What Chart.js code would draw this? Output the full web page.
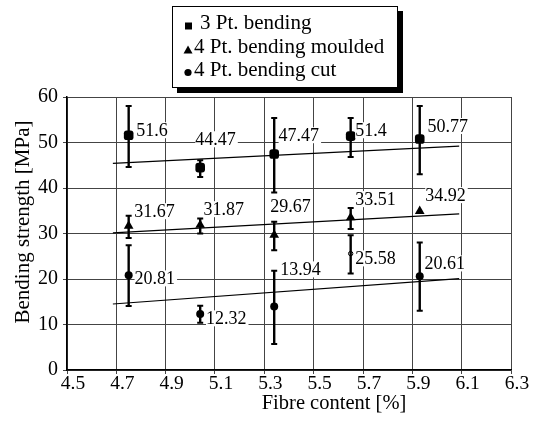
<!DOCTYPE html>
<html><head><meta charset="utf-8">
<script src="https://cdn.jsdelivr.net/npm/chart.js@4.4.1/dist/chart.umd.min.js"></script>
<style>html,body{margin:0;padding:0;background:#fff}#wrap{width:539px;height:426px;position:relative}</style>
</head><body><div id="wrap"><canvas id="c" width="539" height="426"></canvas></div>
<script>
// ---- data ----
const fibre = [4.75, 5.04, 5.34, 5.65, 5.93];
const threePt = [51.6, 44.47, 47.47, 51.4, 50.77];
const threePtHigh = [58.0, 46.1, 55.4, 55.4, 58.0];
const threePtLow = [44.6, 42.4, 39.0, 46.8, 43.0];
const moulded = [31.67, 31.87, 29.67, 33.51, 34.92];
const mouldedHigh = [33.9, 33.3, 32.6, 35.6, null];
const mouldedLow = [29.0, 30.0, 26.3, 31.0, null];
const cut = [20.81, 12.32, 13.94, 25.58, 20.61];
const cutHigh = [27.4, 14.1, 21.8, 29.6, 28.0];
const cutLow = [14.05, 10.4, 5.7, 21.2, 13.0];
const trendX = [4.686, 6.09];
const trend3 = [45.4, 49.2];
const trendM = [30.15, 34.3];
const trendC = [14.5, 20.1];
const seriesNames = ['3 Pt. bending', '4 Pt. bending moulded', '4 Pt. bending cut'];
const xTitle = 'Fibre content [%]';
const yTitle = 'Bending strength [MPa]';

// ---- label placement (pixel offsets from the point: left edge, vertical centre) ----
const labelOffsets = [
  [[7.6,-5],[-4.9,-28.4],[4.4,-18.8],[4.6,-5.9],[7.8,-13]],
  [[5.6,-14.7],[3.4,-15.8],[-3.9,-28.6],[4.6,-18.4],[5.5,-16]],
  [[5.9,3.1],[5.8,4.4],[6.1,-37.2],[4.6,4.8],[4.8,-12.8]]
];

const SERIF = '"Liberation Serif", "Times New Roman", serif';
const pts = (ys) => fibre.map((x, i) => ({x, y: ys[i]}));
const line = (ys) => trendX.map((x, i) => ({x, y: ys[i]}));

const series = [
  {vals: threePt, hi: threePtHigh, lo: threePtLow},
  {vals: moulded, hi: mouldedHigh, lo: mouldedLow},
  {vals: cut, hi: cutHigh, lo: cutLow}
];

const extras = {
  id: 'extras',
  afterDatasetsDraw(chart) {
    const ctx = chart.ctx, xs = chart.scales.x, ys = chart.scales.y;
    ctx.save();
    // error bars
    ctx.strokeStyle = '#000';
    series.forEach(s => {
      fibre.forEach((fx, i) => {
        if (s.hi[i] == null) return;
        const px = xs.getPixelForValue(fx);
        const yh = ys.getPixelForValue(s.hi[i]);
        const yl = ys.getPixelForValue(s.lo[i]);
        ctx.lineWidth = 2.4;
        ctx.beginPath(); ctx.moveTo(px, yh); ctx.lineTo(px, yl); ctx.stroke();
        ctx.lineWidth = 2;
        ctx.beginPath();
        ctx.moveTo(px - 3, yh); ctx.lineTo(px + 3, yh);
        ctx.moveTo(px - 3, yl); ctx.lineTo(px + 3, yl);
        ctx.stroke();
      });
    });
    // value labels
    ctx.font = '18px ' + SERIF;
    ctx.textBaseline = 'middle';
    ctx.textAlign = 'left';
    series.forEach((s, si) => {
      s.vals.forEach((v, i) => {
        const px = xs.getPixelForValue(fibre[i]);
        const py = ys.getPixelForValue(v);
        const [dx, dy] = labelOffsets[si][i];
        const txt = String(v);
        const w = ctx.measureText(txt).width;
        ctx.fillStyle = '#fff';
        ctx.fillRect(px + dx, py + dy - 8, w + 2, 16);
        ctx.fillStyle = '#000';
        ctx.fillText(txt, px + dx, py + dy + 1);
      });
    });
    ctx.restore();
  },
  afterDraw(chart) {
    const ctx = chart.ctx;
    ctx.save();
    // legend box with shadow
    ctx.fillStyle = '#000';
    ctx.fillRect(177, 11, 226, 82);
    ctx.fillStyle = '#fff';
    ctx.fillRect(172, 6, 226, 82);
    ctx.strokeStyle = '#000'; ctx.lineWidth = 1;
    ctx.strokeRect(172.5, 6.5, 225, 81);
    ctx.fillStyle = '#000';
    // markers
    ctx.beginPath(); // square
    ctx.rect(185, 22.5, 7, 7); ctx.fill();
    ctx.beginPath(); // triangle
    ctx.moveTo(188, 45.5); ctx.lineTo(192.5, 53.5); ctx.lineTo(183.5, 53.5); ctx.closePath(); ctx.fill();
    ctx.beginPath(); // circle
    ctx.arc(188, 72.5, 3.6, 0, Math.PI * 2); ctx.fill();
    ctx.font = '21px ' + SERIF;
    ctx.textBaseline = 'middle'; ctx.textAlign = 'left';
    ctx.fillText(seriesNames[0], 200, 23.5);
    ctx.fillText(seriesNames[1], 194, 47);
    ctx.fillText(seriesNames[2], 194, 70.5);
    // axis titles
    ctx.textAlign = 'center';
    ctx.font = '20.5px ' + SERIF;
    ctx.fillText(xTitle, 334, 404);
    ctx.font = '21px ' + SERIF;
    ctx.translate(23, 222);
    ctx.rotate(-Math.PI / 2);
    ctx.fillText(yTitle, 0, 0);
    ctx.restore();
  }
};

const trendStyle = {type: 'line', showLine: true, borderColor: '#000', borderWidth: 1.2, pointRadius: 0, fill: false};

new Chart(document.getElementById('c'), {
  type: 'scatter',
  data: {
    datasets: [
      {label: seriesNames[0], data: pts(threePt), pointStyle: 'rectRounded', pointRadius: 5.6,
       backgroundColor: '#000', borderColor: '#000', pointBorderWidth: 0},
      {label: seriesNames[1], data: pts(moulded), pointStyle: 'triangle', pointRadius: 5.6,
       backgroundColor: '#000', borderColor: '#000', pointBorderWidth: 0},
      {label: seriesNames[2], data: pts(cut), pointStyle: 'circle', pointRadius: [4, 4, 4, 2.2, 4],
       backgroundColor: ['#000', '#000', '#000', '#fff', '#000'], borderColor: '#000', pointBorderWidth: [0, 0, 0, 1, 0]},
      Object.assign({label: 't3', data: line(trend3)}, trendStyle),
      Object.assign({label: 'tm', data: line(trendM)}, trendStyle),
      Object.assign({label: 'tc', data: line(trendC)}, trendStyle)
    ]
  },
  options: {
    responsive: false,
    animation: false,
    devicePixelRatio: 1,
    layout: {padding: {left: 0, top: 97, right: 28, bottom: 0}},
    plugins: {legend: {display: false}, tooltip: {enabled: false}},
    scales: {
      x: {
        type: 'linear', min: 4.5, max: 6.3,
        afterFit(s) { s.height = 56; },
        ticks: {stepSize: 0.2, color: '#000', padding: 0, labelOffset: 6, maxRotation: 0, autoSkip: false,
                font: {family: SERIF, size: 19.5, lineHeight: 1},
                callback: v => Number(v).toFixed(1)},
        grid: {color: '#444', lineWidth: 1, tickLength: 4},
        border: {color: '#000', width: 1.5}
      },
      y: {
        type: 'linear', min: 0, max: 60,
        afterFit(s) { s.width = 67; },
        ticks: {stepSize: 10, color: '#000', padding: 5,
                font: {family: SERIF, size: 20}},
        grid: {color: '#444', lineWidth: 1, tickLength: 4},
        border: {color: '#000', width: 1.5}
      }
    }
  },
  plugins: [extras]
});
</script>
</body></html>
